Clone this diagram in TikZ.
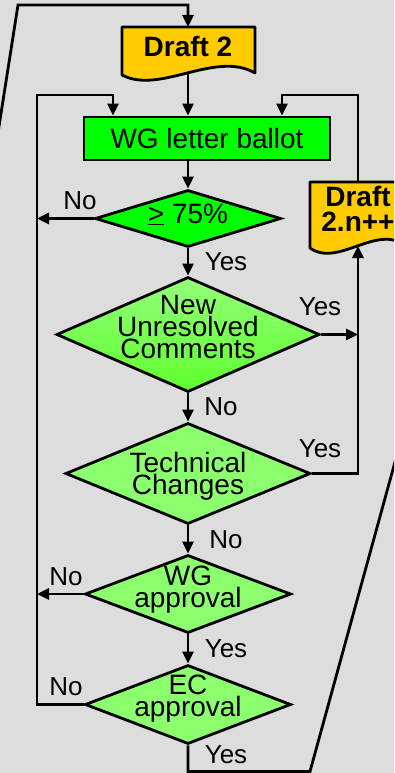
\documentclass[tikz,border=0pt]{standalone}
\usepackage{fontspec}
\setmainfont{Liberation Sans}
\usetikzlibrary{shapes.geometric,arrows.meta}
\definecolor{bg}{HTML}{DDDDDD}
\definecolor{docyellow}{HTML}{FFCC00}
\definecolor{brightgreen}{HTML}{00FF00}
\definecolor{palegreen}{HTML}{8CFF6E}
\definecolor{paletop}{HTML}{94FF7A}
\definecolor{palebot}{HTML}{5EFF2E}
\begin{document}
\begin{tikzpicture}[x=1pt,y=-1pt,
  conn/.style={draw=black,line width=2.8pt,-{Triangle[length=12pt,width=11pt]}},
  plain/.style={draw=black,line width=2.8pt},
  decision/.style={diamond,draw=black,line width=2.8pt,inner sep=0pt,fill=palegreen},
  boxtext/.style={font=\fontsize{28}{22}\selectfont,align=center,inner sep=0pt},
  doctext/.style={font=\bfseries\fontsize{28}{25}\selectfont,align=center,inner sep=0pt},
  answer/.style={font=\fontsize{26}{26}\selectfont,anchor=base,inner sep=0pt},
  docshape/.style={draw=black,line width=2.8pt,fill=docyellow,line join=round},
]
\useasboundingbox (0,0) rectangle (394,773);
\clip (0,0) rectangle (394,773);
\fill[bg] (-5,-5) rectangle (400,780);

% documents
\draw[docshape] (122,75) -- (122,27) -- (255,27) -- (255,73) .. controls (215,50) and (160,95) .. (122,75) -- cycle;
\node[doctext,anchor=base] (d2) at (188,57) {Draft 2};
\coordinate (d2top) at (188,27);
\coordinate (d2bot) at (188,72);

\draw[docshape] (310,248) -- (310,182) -- (406,182) -- (406,246) .. controls (377,223) and (338,268) .. (310,248) -- cycle;
\node[doctext] (dn) at (358,209.3) {Draft\\2.n++};
\coordinate (dntop) at (358,182);
\coordinate (dnbot) at (358,246);

% process box
\node[draw=black,line width=2.8pt,fill=brightgreen,minimum width=246pt,minimum height=43pt,inner sep=0pt,font=\fontsize{28}{22}\selectfont] (lb) at (207,138.5) {WG letter ballot};

% decisions
\node[decision,fill=brightgreen,minimum width=186pt,minimum height=57pt] (q1) at (188,218.5) {};
\node[font=\fontsize{28}{22}\selectfont,anchor=base,inner sep=0pt] (q1t) at (188,223) {\underline{>} 75\%};

\node[decision,top color=paletop,bottom color=palebot,minimum width=263pt,minimum height=115pt] (q2) at (188,334.5) {};
\node[boxtext] (q2t) at (188,327) {New\\Unresolved\\Comments};

\node[decision,minimum width=245pt,minimum height=101pt] (q3) at (188,473.5) {};
\node[boxtext] (q3t) at (188,476.5) {Technical\\Changes};

\node[decision,minimum width=206pt,minimum height=78pt] (q4) at (188,594) {};
\node[boxtext] (q4t) at (188,590) {WG\\approval};

\node[decision,minimum width=206pt,minimum height=79pt] (q5) at (188,704.5) {};
\node[boxtext] (q5t) at (188,699) {EC\\approval};

% helper coordinates
\coordinate (topL) at (18,5);
\coordinate (topR) at (188,5);
\coordinate (offL) at (-11,190);
\coordinate (L) at (37,95);
\coordinate (Lin) at (113,95);
\coordinate (R) at (358,95);
\coordinate (Rin) at (282,95);
\coordinate (B) at (310,771.5);
\coordinate (offR) at (412,400);

% connectors
\draw[conn] (offL) -- (topL) -- (topR) -- (d2top);
\draw[conn] (d2bot) -- (d2bot |- lb.north);
\draw[conn] (q1.north |- lb.south) -- (q1.north);
\draw[conn] (q1.south) -- (q2.north);
\draw[conn] (q2.south) -- (q3.north);
\draw[conn] (q3.south) -- (q4.north);
\draw[conn] (q4.south) -- (q5.north);
\draw[conn] (q1.west) -- (q1.west -| L);
\draw[conn] (q4.west) -- (q4.west -| L);
\draw[conn] (q5.west) -- (q5.west -| L) -- (L) -- (Lin) -- (Lin |- lb.north);
\draw[conn] (dntop) -- (R) -- (Rin) -- (Rin |- lb.north);
\draw[conn] (q2.east) -- (q2.east -| R);
\draw[conn] (q3.east) -- (q3.east -| R) -- (dnbot);
\draw[plain] (q5.south) -- (q5.south |- B) -- (B) -- (offR);

% answer labels
\node[answer] (no1) at (80,209) {No};
\node[answer] (yes1) at (226,270) {Yes};
\node[answer] (yes2) at (320,315) {Yes};
\node[answer] (no2) at (221,415) {No};
\node[answer] (yes3) at (320,457) {Yes};
\node[answer] (no3) at (226,548) {No};
\node[answer] (no4) at (66,585) {No};
\node[answer] (yes4) at (226,657) {Yes};
\node[answer] (no5) at (66,695) {No};
\node[answer] (yes5) at (226,763) {Yes};
\end{tikzpicture}
\end{document}
